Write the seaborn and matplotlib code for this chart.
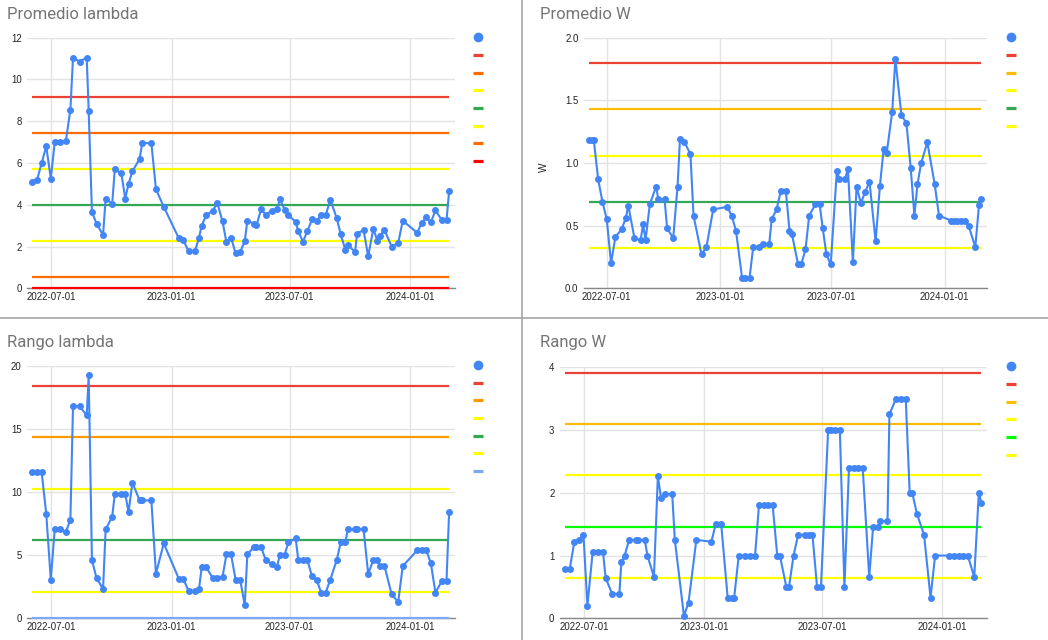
import numpy as np
import pandas as pd
import matplotlib
matplotlib.use("Agg")
import matplotlib.pyplot as plt
from matplotlib.lines import Line2D
import seaborn as sns

# ---------------- data ----------------
dates_main = [
    "2022-06-01", "2022-06-09", "2022-06-16", "2022-06-23", "2022-06-30", "2022-07-06", "2022-07-14",
    "2022-07-23", "2022-07-30", "2022-08-03", "2022-08-13", "2022-08-24", "2022-08-27", "2022-09-01",
    "2022-09-08", "2022-09-18", "2022-09-22", "2022-10-02", "2022-10-06", "2022-10-16", "2022-10-22",
    "2022-10-27", "2022-11-02", "2022-11-13", "2022-11-17", "2022-12-01", "2022-12-08", "2022-12-20",
    "2023-01-12", "2023-01-19", "2023-01-27", "2023-02-06", "2023-02-12", "2023-02-16", "2023-02-23",
    "2023-03-05", "2023-03-12", "2023-03-20", "2023-03-26", "2023-04-02", "2023-04-09", "2023-04-16",
    "2023-04-23", "2023-04-27", "2023-05-07", "2023-05-11", "2023-05-18", "2023-05-25", "2023-06-04",
    "2023-06-11", "2023-06-16", "2023-06-23", "2023-06-29", "2023-07-10", "2023-07-14", "2023-07-21",
    "2023-07-28", "2023-08-04", "2023-08-11", "2023-08-18", "2023-08-25", "2023-09-01", "2023-09-11",
    "2023-09-17", "2023-09-24", "2023-09-28", "2023-10-09", "2023-10-12", "2023-10-22", "2023-10-29",
    "2023-11-06", "2023-11-12", "2023-11-16", "2023-11-23", "2023-12-04", "2023-12-14", "2023-12-21",
    "2024-01-12", "2024-01-19", "2024-01-26", "2024-02-02", "2024-02-09", "2024-02-19", "2024-02-26",
    "2024-03-01",
]

promedio_lambda = [
    5.1, 5.2, 6.0, 6.8, 5.25, 7.0, 7.0, 7.05, 8.55, 11.05,
    10.85, 11.05, 8.5, 3.65, 3.1, 2.55, 4.3, 4.05, 5.7, 5.5,
    4.3, 5.0, 5.6, 6.2, 6.95, 6.95, 4.75, 3.9, 2.4, 2.3,
    1.77, 1.8, 2.43, 3.0, 3.5, 3.72, 4.08, 3.2, 2.2, 2.43,
    1.68, 1.74, 2.25, 3.24, 3.1, 3.02, 3.78, 3.53, 3.72, 3.78,
    4.26, 3.77, 3.5, 3.18, 2.74, 2.23, 2.74, 3.3, 3.24, 3.5,
    3.5, 4.24, 3.35, 2.58, 1.85, 2.07, 1.74, 2.62, 2.79, 1.53,
    2.86, 2.28, 2.52, 2.79, 2.0, 2.17, 3.24, 2.66, 3.13, 3.4,
    3.16, 3.73, 3.26, 3.26, 4.64,
]

rango_lambda = [
    11.55, 11.55, 11.55, 8.26, 3.02, 7.02, 7.02, 6.8, 7.8, 16.8,
    16.8, 16.08, 19.26, 4.58, 3.15, 2.28, 7.02, 8.03, 9.83, 9.83,
    9.83, 8.4, 10.73, 9.32, 9.32, 9.32, 3.5, 5.9, 3.1, 3.1,
    2.1, 2.1, 2.28, 4.0, 4.0, 3.15, 3.15, 3.26, 5.03, 5.03,
    3.02, 3.02, 1.0, 5.03, 5.62, 5.62, 5.62, 4.6, 4.24, 4.0,
    5.0, 5.0, 6.0, 6.3, 4.58, 4.58, 4.58, 3.28, 3.02, 2.0,
    2.0, 3.02, 4.6, 6.0, 6.0, 7.02, 7.02, 7.02, 7.02, 3.5,
    4.58, 4.58, 4.1, 4.1, 1.85, 1.25, 4.1, 5.35, 5.35, 5.35,
    4.34, 2.0, 2.91, 2.91, 8.4,
]

rango_w = [
    0.79, 0.79, 1.22, 1.25, 1.33, 0.2, 1.05, 1.05, 1.05, 0.64,
    0.39, 0.39, 0.89, 1.0, 1.25, 1.25, 1.25, 1.25, 1.0, 0.66,
    2.26, 1.91, 1.98, 1.98, 1.25, 0.04, 0.25, 1.25, 1.22, 1.51,
    1.51, 0.33, 0.33, 0.33, 1.0, 1.0, 1.0, 1.0, 1.8, 1.8,
    1.8, 1.8, 1.0, 1.0, 0.5, 0.5, 1.0, 1.33, 1.33, 1.33,
    1.33, 0.5, 0.5, 3.0, 3.0, 3.0, 3.0, 0.5, 2.4, 2.4,
    2.4, 2.4, 0.66, 1.46, 1.46, 1.55, 1.55, 3.25, 3.5, 3.5,
    3.5, 2.0, 2.0, 1.67, 1.33, 0.33, 1.0, 1.0, 1.0, 1.0,
    1.0, 1.0, 0.66, 2.0, 1.84,
]

dates_prom_w = [
    "2022-06-02", "2022-06-07", "2022-06-10", "2022-06-17", "2022-06-24", "2022-07-01", "2022-07-08",
    "2022-07-15", "2022-07-25", "2022-08-01", "2022-08-05", "2022-08-15", "2022-08-25", "2022-08-29",
    "2022-09-02", "2022-09-09", "2022-09-19", "2022-09-23", "2022-10-03", "2022-10-07", "2022-10-17",
    "2022-10-24", "2022-10-28", "2022-11-04", "2022-11-14", "2022-11-19", "2022-12-02", "2022-12-10",
    "2022-12-21", "2023-01-13", "2023-01-20", "2023-01-27", "2023-02-06", "2023-02-11", "2023-02-18",
    "2023-02-24", "2023-03-06", "2023-03-12", "2023-03-22", "2023-03-26", "2023-04-03", "2023-04-10",
    "2023-04-18", "2023-04-24", "2023-04-28", "2023-05-08", "2023-05-13", "2023-05-20", "2023-05-26",
    "2023-06-05", "2023-06-12", "2023-06-17", "2023-06-23", "2023-06-30", "2023-07-10", "2023-07-14",
    "2023-07-23", "2023-07-28", "2023-08-05", "2023-08-11", "2023-08-18", "2023-08-25", "2023-09-01",
    "2023-09-11", "2023-09-18", "2023-09-24", "2023-09-29", "2023-10-08", "2023-10-13", "2023-10-23",
    "2023-10-31", "2023-11-07", "2023-11-13", "2023-11-18", "2023-11-24", "2023-12-04", "2023-12-16",
    "2023-12-23", "2024-01-12", "2024-01-17", "2024-01-22", "2024-01-27", "2024-02-03", "2024-02-09",
    "2024-02-20", "2024-02-26", "2024-03-01",
]

promedio_w = [
    1.18, 1.18, 1.18, 0.87, 0.69, 0.55, 0.20, 0.41, 0.47, 0.56,
    0.66, 0.40, 0.385, 0.51, 0.385, 0.67, 0.81, 0.71, 0.71, 0.48,
    0.40, 0.81, 1.19, 1.17, 1.07, 0.58, 0.27, 0.33, 0.63, 0.65,
    0.58, 0.46, 0.08, 0.08, 0.08, 0.33, 0.33, 0.35, 0.35, 0.55,
    0.63, 0.78, 0.78, 0.46, 0.43, 0.19, 0.19, 0.31, 0.58, 0.67,
    0.67, 0.48, 0.27, 0.19, 0.94, 0.87, 0.87, 0.95, 0.21, 0.81,
    0.68, 0.77, 0.85, 0.375, 0.82, 1.11, 1.08, 1.41, 1.83, 1.38,
    1.32, 0.96, 0.58, 0.83, 1.0, 1.165, 0.83, 0.58, 0.54, 0.54,
    0.54, 0.54, 0.54, 0.50, 0.33, 0.665, 0.71,
]

# control / reference levels
ref_prom_lambda = [9.16, 7.44, 5.71, 3.99, 2.28, 0.55, 0.0]
ref_prom_w = [1.798, 1.428, 1.059, 0.691, 0.324]
ref_rango_lambda = [18.41, 14.36, 10.23, 6.15, 2.04, 0.0]
ref_rango_w = [3.915, 3.097, 2.279, 1.456, 0.637]

col_prom_lambda = ["#ea4335", "#ff6d01", "#ffff00", "#34a853", "#ffff00", "#ff6d01", "#ff0000"]
col_prom_w = ["#ea4335", "#fbbc04", "#ffff00", "#34a853", "#ffff00"]
col_rango_lambda = ["#ea4335", "#ff9900", "#ffff00", "#34a853", "#ffff00", "#7baaf7"]
col_rango_w = ["#ea4335", "#fbbc04", "#ffff00", "#00ff00", "#ffff00"]

x_tick_labels = ["2022-07-01", "2023-01-01", "2023-07-01", "2024-01-01"]
yt_prom_lambda = [0, 2, 4, 6, 8, 10, 12]
yt_prom_w = [0.0, 0.5, 1.0, 1.5, 2.0]
yt_rango_lambda = [0, 5, 10, 15, 20]
yt_rango_w = [0, 1, 2, 3, 4]

titles = ["Promedio lambda", "Promedio W", "Rango lambda", "Rango W"]
x_range = ["2022-05-25", "2024-03-10"]

# ---------------- style ----------------
sns.set_style("white")
plt.rcParams["font.family"] = ["Liberation Sans", "DejaVu Sans"]

BLUE = "#4285f4"
W, H = 1048, 640
fig = plt.figure(figsize=(W / 100, H / 100), dpi=100)


def px_rect(l, t, r, b):
    return [l / W, 1 - b / H, (r - l) / W, (b - t) / H]


def panel(rect, title, title_xy, dates, values, refs, ref_cols, yticks, ylabels,
          leg_xy, ylabel=None):
    ax = fig.add_axes(px_rect(*rect))
    d = pd.to_datetime(pd.Series(dates))
    df = pd.DataFrame({"fecha": d, "valor": values})
    # reference lines
    ax.hlines(refs, xmin=d.min(), xmax=d.max(), colors=ref_cols, linewidth=1.6,
              zorder=2.7, clip_on=False)
    sns.lineplot(data=df, x="fecha", y="valor", ax=ax, color=BLUE, linewidth=1.5,
                 marker="o", markersize=5.0, markeredgewidth=0, estimator=None,
                 zorder=3, clip_on=False)
    ax.set_xlim(pd.to_datetime(x_range[0]), pd.to_datetime(x_range[1]))
    ax.set_ylim(yticks[0], yticks[-1])
    ax.set_yticks(yticks)
    ax.set_yticklabels(ylabels)
    ax.set_xticks(pd.to_datetime(x_tick_labels))
    ax.set_xticklabels(x_tick_labels)
    ax.tick_params(axis="both", length=0, labelsize=6.9, colors="#222222")
    ax.tick_params(axis="x", pad=3)
    ax.tick_params(axis="y", pad=4)
    ax.grid(True, color="#e3e3e3", linewidth=1.0, zorder=0)
    ax.set_axisbelow(True)
    for s in ["left", "top", "right"]:
        ax.spines[s].set_visible(False)
    ax.spines["bottom"].set_color("#888888")
    ax.spines["bottom"].set_linewidth(1.0)
    ax.spines["bottom"].set_zorder(2.5)
    ax.set_xlabel("")
    if ylabel:
        ax.set_ylabel(ylabel, fontsize=7.2, color="#222222")
        ax.yaxis.set_label_coords(-0.088, 0.485)
    else:
        ax.set_ylabel("")
    fig.text(title_xy[0] / W, 1 - title_xy[1] / H, title, fontsize=12,
             family=["Roboto", "DejaVu Sans"], color="#757575", va="baseline", ha="left")
    handles = [Line2D([], [], marker="o", color=BLUE, linestyle="", markersize=7.0,
                      markeredgewidth=0)]
    handles += [Line2D([], [], color=c, linewidth=2.3, solid_capstyle="butt") for c in ref_cols]
    fig.legend(handles, [""] * len(handles), loc="upper left",
               bbox_to_anchor=(leg_xy[0] / W, 1 - leg_xy[1] / H),
               bbox_transform=fig.transFigure, frameon=False, fontsize=9,
               handlelength=0.8, handleheight=1.0, handletextpad=0.0,
               labelspacing=0.385, borderpad=0.0, borderaxespad=0.0)
    return ax


panel((27.3, 37.7, 455, 288.3), titles[0], (7, 19), dates_main, promedio_lambda,
      ref_prom_lambda, col_prom_lambda, yt_prom_lambda, [str(v) for v in yt_prom_lambda],
      (473.3, 32.3))
panel((584, 37.7, 987, 288.3), titles[1], (540, 19), dates_prom_w, promedio_w,
      ref_prom_w, col_prom_w, yt_prom_w, [f"{v:.1f}" for v in yt_prom_w],
      (1006, 32.3), ylabel="W")
panel((27.3, 366, 455, 617.7), titles[2], (7, 347), dates_main, rango_lambda,
      ref_rango_lambda, col_rango_lambda, yt_rango_lambda, [str(v) for v in yt_rango_lambda],
      (473.3, 360))
panel((560, 367.3, 987.3, 618.3), titles[3], (540, 347.5), dates_main, rango_w,
      ref_rango_w, col_rango_w, yt_rango_w, [str(v) for v in yt_rango_w],
      (1006, 361.3))

# panel borders
fig.add_artist(Line2D([522 / W, 522 / W], [0, 1], transform=fig.transFigure,
                      color="#a6a6a6", linewidth=1.2))
fig.add_artist(Line2D([0, 1], [1 - 318 / H, 1 - 318 / H], transform=fig.transFigure,
                      color="#a6a6a6", linewidth=1.2))

fig.savefig("out.png", dpi=100)
